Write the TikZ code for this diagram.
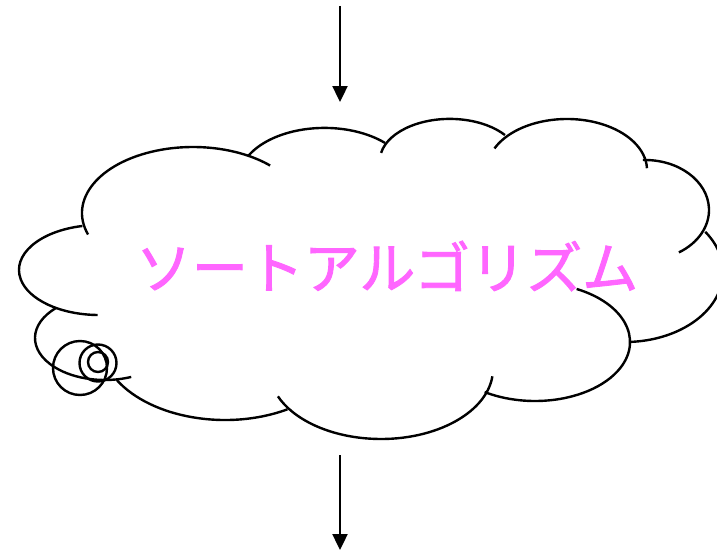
\documentclass[tikz,border=0pt]{standalone}
\usepackage{fontspec}
\newfontfamily\jpfont[FakeBold=1.6]{Noto Sans CJK JP}
\usetikzlibrary{arrows.meta}
\definecolor{titlepink}{HTML}{FF66FF}
\newcommand{\lobe}[6]{\draw[cloudline] ([shift={(#5:#3 and #4)}]#1,#2) arc[start angle=#5,end angle=#6,x radius=#3,y radius=#4];}
\begin{document}
\begin{tikzpicture}[x=1pt,y=-1pt,
  cloudline/.style={line width=2.4pt,black},
  flowarrow/.style={line width=2.4pt,-{Triangle[width=15pt,length=16pt]}},
  title/.style={font=\jpfont\fontsize{56}{56}\selectfont,text=titlepink,inner sep=0pt}]
\fill[white] (0,0) rectangle (717,551);
\useasboundingbox (0,0) rectangle (717,551);
% cloud lobes
\lobe{193}{213}{111}{66}{161}{314}
\lobe{324.5}{179.3}{85.6}{51.4}{207}{315}
\lobe{449.8}{160.9}{70}{42}{191}{322}
\lobe{567}{170}{80}{51}{205}{358}
\lobe{645}{210}{64}{50}{268}{418}
\lobe{625}{272}{98}{70}{-35}{87}
\lobe{535}{342}{95}{59}{-64}{122}
\lobe{381}{369}{112}{70}{6}{157}
\lobe{225}{340}{125}{80}{60}{150}
\lobe{105}{338}{70}{42}{226}{68}
\lobe{99}{270}{80}{45}{258}{91}
% small circles
\draw[cloudline] (80,368) circle[radius=27];
\draw[cloudline] (98,363) circle[radius=18.5];
\draw[cloudline] (98,362) circle[radius=10];
% title
\node[title] (sort) at (387,266) {ソートアルゴリズム};
% arrows
\coordinate (inStart) at (340,6);
\coordinate (inEnd) at (340,102);
\coordinate (outStart) at (340,455);
\coordinate (outEnd) at (340,550);
\draw[flowarrow] (inStart) -- (inEnd);
\draw[flowarrow] (outStart) -- (outEnd);
\end{tikzpicture}
\end{document}
